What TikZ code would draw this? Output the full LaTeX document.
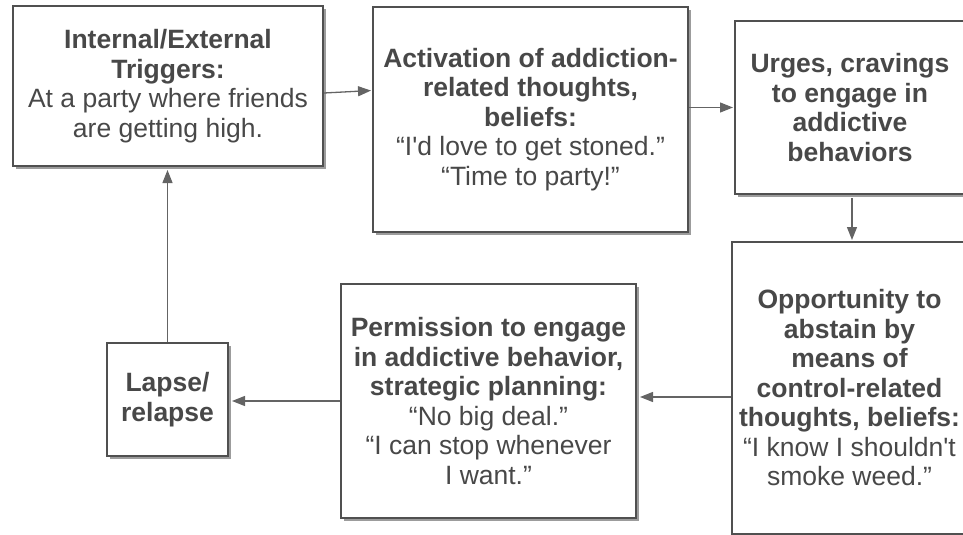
\documentclass[tikz,border=0pt]{standalone}
\usepackage{fontspec}
\usetikzlibrary{arrows.meta,shadows}
\newfontfamily\diagfont{Liberation Sans}
\definecolor{inkgray}{HTML}{484848}
\definecolor{framegray}{HTML}{505050}
\definecolor{shadegray}{HTML}{9C9C9C}
\definecolor{linkgray}{HTML}{646464}
\tikzset{
  stagebox/.style={draw=framegray, line width=2pt, fill=white,
    text=inkgray, align=center, inner sep=0pt,
    font=\diagfont\fontsize{26.5}{29.5}\selectfont,
    drop shadow={shadow xshift=3pt, shadow yshift=-3pt, fill=shadegray, opacity=1}},
  link/.style={draw=linkgray, line width=1.3pt,
    -{Triangle[length=13pt,width=10pt]}, shorten >=1pt},
}
\begin{document}
\begin{tikzpicture}[x=1pt,y=-1pt]
\useasboundingbox (0,0) rectangle (963,535);

\node[stagebox, minimum width=310pt, minimum height=160pt] (trig) at (168,86)
  {\textbf{Internal/External}\\\textbf{Triggers:}\\At a party where friends\\are getting high.};
\node[stagebox, minimum width=315pt, minimum height=225pt] (act) at (530.5,119.5)
  {\textbf{Activation of addiction-}\\\textbf{related thoughts,}\\\textbf{beliefs:}\\“I'd love to get stoned.”\\“Time to party!”};
\node[stagebox, minimum width=230pt, minimum height=173pt] (urge) at (850,107.5)
  {\textbf{Urges, cravings}\\\textbf{to engage in}\\\textbf{addictive}\\\textbf{behaviors}};
\node[stagebox, minimum width=235pt, minimum height=292pt] (opp) at (849.5,388)
  {\textbf{Opportunity to}\\\textbf{abstain by}\\\textbf{means of}\\\textbf{control-related}\\\textbf{thoughts, beliefs:}\\“I know I shouldn't\\smoke weed.”};
\node[stagebox, minimum width=295pt, minimum height=234pt] (perm) at (488.5,401)
  {\textbf{Permission to engage}\\\textbf{in addictive behavior,}\\\textbf{strategic planning:}\\“No big deal.”\\“I can stop whenever\\I want.”};
\node[stagebox, minimum width=121pt, minimum height=113pt] (lapse) at (167.5,399.5)
  {\textbf{Lapse/}\\\textbf{relapse}};

\draw[link] ([yshift=-7pt]trig.east) -- ([yshift=29pt]act.west);
\draw[link] (urge.west -| act.east) -- (urge.west);
\draw[link] ([xshift=2pt]urge.south) ++(0,-3pt) -- ([xshift=2pt]urge.south |- opp.north);
\draw[link, shorten >=3pt] ([yshift=-9pt]opp.west) -- ([yshift=-9pt]opp.west -| perm.east);
\draw[link, shorten >=3pt] (perm.west) -- (perm.west -| lapse.east);
\draw[link, shorten >=3pt] (lapse.north) -- (lapse.north |- trig.south);
\end{tikzpicture}
\end{document}
